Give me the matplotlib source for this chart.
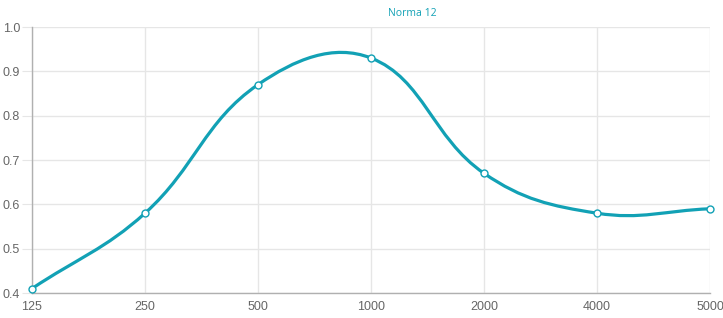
import numpy as np
import matplotlib.pyplot as plt
from matplotlib.path import Path
from matplotlib.patches import PathPatch

# Data
freqs = ["125", "250", "500", "1000", "2000", "4000", "5000"]
values = [0.41, 0.58, 0.87, 0.93, 0.67, 0.58, 0.59]
series_name = "Norma 12"

teal = "#12a1b5"
grid_c = "#e6e6e6"
text_c = "#666666"

W, H = 723, 318
fig = plt.figure(figsize=(W / 100, H / 100), dpi=100)
left, right, top, bottom = 32, 710, 27, 293
ax = fig.add_axes([left / W, (H - bottom) / H, (right - left) / W, (bottom - top) / H])

x = np.arange(len(freqs))
ax.set_xlim(0, len(freqs) - 1)
ax.set_ylim(0.4, 1.0)

# Chart.js-like bezier (tension 0.4), distances measured in pixel space
sx = (right - left) / (len(freqs) - 1)
sy = (bottom - top) / 0.6
px = x * sx
py = np.array(values) * sy
tension = 0.4
verts = [(x[0], values[0])]
codes = [Path.MOVETO]
cps = []
n = len(px)
for i in range(n):
    pi = max(i - 1, 0)
    ni = min(i + 1, n - 1)
    d01 = np.hypot(px[i] - px[pi], py[i] - py[pi])
    d12 = np.hypot(px[ni] - px[i], py[ni] - py[i])
    tot = d01 + d12
    s01 = d01 / tot if tot else 0
    s12 = d12 / tot if tot else 0
    fa, fb = tension * s01, tension * s12
    prev_cp = (px[i] - fa * (px[ni] - px[pi]), py[i] - fa * (py[ni] - py[pi]))
    next_cp = (px[i] + fb * (px[ni] - px[pi]), py[i] + fb * (py[ni] - py[pi]))
    cps.append((prev_cp, next_cp))
for i in range(1, n):
    c1 = cps[i - 1][1]
    c2 = cps[i][0]
    verts += [(c1[0] / sx, c1[1] / sy), (c2[0] / sx, c2[1] / sy), (x[i], values[i])]
    codes += [Path.CURVE4] * 3
ax.add_patch(PathPatch(Path(verts, codes), fill=False, edgecolor=teal, lw=2.3,
                       capstyle="round", joinstyle="round", zorder=3))
ax.plot(x, values, linestyle="none", marker="o", markersize=5,
        markerfacecolor="white", markeredgecolor=teal, markeredgewidth=1.0,
        zorder=4, clip_on=False)

ax.set_xticks(x)
ax.set_xticklabels(freqs)
ax.set_yticks(np.arange(0.4, 1.01, 0.1))
ax.set_yticklabels([f"{v:.1f}" for v in np.arange(0.4, 1.01, 0.1)])
ax.grid(True, color=grid_c, lw=1)
ax.set_axisbelow(True)
for s in ["top", "right"]:
    ax.spines[s].set_visible(False)
for s in ["left", "bottom"]:
    ax.spines[s].set_color("#b0b0b0")
    ax.spines[s].set_linewidth(1)
ax.tick_params(axis="y", length=7.5, color=grid_c, pad=1, labelsize=9, labelcolor=text_c)
ax.tick_params(axis="x", length=0, pad=6, labelsize=9, labelcolor=text_c)
for lab in ax.get_xticklabels() + ax.get_yticklabels():
    lab.set_fontfamily("Liberation Sans")

fig.text(412 / W, 1 - 14 / H, series_name, color=teal, fontsize=7.5,
         family="Open Sans", ha="center", va="center")

fig.savefig("out.png", dpi=100)
